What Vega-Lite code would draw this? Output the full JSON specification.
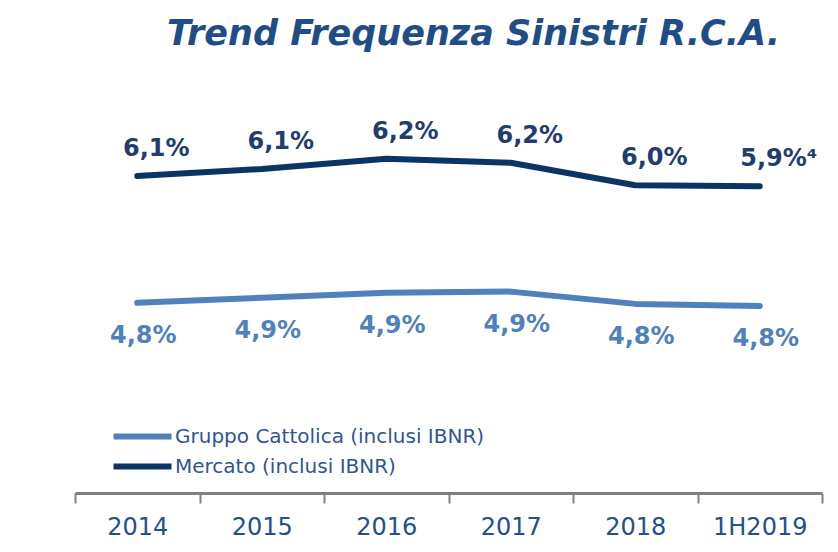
{
  "$schema": "https://vega.github.io/schema/vega-lite/v6.json",
  "width": 747,
  "height": 413,
  "autosize": "none",
  "padding": {"left": 75, "top": 80, "right": 16, "bottom": 59},
  "background": "white",
  "config": {"view": {"stroke": null}, "font": "DejaVu Sans"},
  "title": {
    "text": "Trend Frequenza Sinistri R.C.A.",
    "font": "DejaVu Sans",
    "fontSize": 35,
    "fontWeight": "bold",
    "fontStyle": "italic",
    "color": "#1F4E87",
    "anchor": "middle",
    "dx": 25,
    "offset": 28
  },
  "data": {
    "values": [
      {"year": "2014", "series": "Gruppo Cattolica (inclusi IBNR)", "value": 4.80, "label": "4,8%"},
      {"year": "2015", "series": "Gruppo Cattolica (inclusi IBNR)", "value": 4.85, "label": "4,9%"},
      {"year": "2016", "series": "Gruppo Cattolica (inclusi IBNR)", "value": 4.90, "label": "4,9%"},
      {"year": "2017", "series": "Gruppo Cattolica (inclusi IBNR)", "value": 4.91, "label": "4,9%"},
      {"year": "2018", "series": "Gruppo Cattolica (inclusi IBNR)", "value": 4.79, "label": "4,8%"},
      {"year": "1H2019", "series": "Gruppo Cattolica (inclusi IBNR)", "value": 4.77, "label": "4,8%"},
      {"year": "2014", "series": "Mercato (inclusi IBNR)", "value": 6.04, "label": "6,1%"},
      {"year": "2015", "series": "Mercato (inclusi IBNR)", "value": 6.11, "label": "6,1%"},
      {"year": "2016", "series": "Mercato (inclusi IBNR)", "value": 6.21, "label": "6,2%"},
      {"year": "2017", "series": "Mercato (inclusi IBNR)", "value": 6.17, "label": "6,2%"},
      {"year": "2018", "series": "Mercato (inclusi IBNR)", "value": 5.95, "label": "6,0%"},
      {"year": "1H2019", "series": "Mercato (inclusi IBNR)", "value": 5.94, "label": "5,9%⁴"}
    ]
  },
  "encoding": {
    "x": {
      "field": "year",
      "type": "ordinal",
      "sort": ["2014", "2015", "2016", "2017", "2018", "1H2019"],
      "scale": {"paddingInner": 0, "paddingOuter": 0},
      "axis": {
        "title": null,
        "labelAngle": 0,
        "labelFont": "DejaVu Sans",
        "labelFontSize": 24,
        "labelColor": "#22508C",
        "labelPadding": 12,
        "domainColor": "#808080",
        "domainWidth": 3,
        "tickColor": "#808080",
        "tickWidth": 2,
        "tickSize": 10,
        "tickBand": "extent",
        "grid": false
      }
    },
    "y": {
      "field": "value",
      "type": "quantitative",
      "scale": {"domain": [2.94, 6.98], "zero": false, "nice": false},
      "axis": null
    }
  },
  "layer": [
    {
      "mark": {"type": "line", "strokeWidth": 6, "strokeCap": "round", "strokeJoin": "round"},
      "encoding": {
        "color": {
          "field": "series",
          "type": "nominal",
          "scale": {
            "domain": ["Gruppo Cattolica (inclusi IBNR)", "Mercato (inclusi IBNR)"],
            "range": ["#4F81BD", "#0B3466"]
          },
          "legend": {
            "title": null,
            "orient": "none",
            "legendX": 50,
            "legendY": 339,
            "symbolType": "M-2,0H2",
            "symbolSize": 841,
            "symbolStrokeWidth": 6,
            "symbolStrokeCap": "round",
            "labelFont": "DejaVu Sans",
            "labelFontSize": 20,
            "labelLimit": 0,
            "labelColor": "#2F5597",
            "labelOffset": 15,
            "rowPadding": 0
          }
        }
      }
    },
    {
      "transform": [{"filter": "datum.series === 'Mercato (inclusi IBNR)'"}],
      "mark": {"type": "text", "fontSize": 24, "fontWeight": "bold", "color": "#1F3D6E", "dy": -27, "dx": 19, "baseline": "middle"},
      "encoding": {"text": {"field": "label"}}
    },
    {
      "transform": [{"filter": "datum.series === 'Gruppo Cattolica (inclusi IBNR)'"}],
      "mark": {"type": "text", "fontSize": 24, "fontWeight": "bold", "color": "#4F81BD", "dy": 33, "dx": 6, "baseline": "middle"},
      "encoding": {"text": {"field": "label"}}
    }
  ]
}
